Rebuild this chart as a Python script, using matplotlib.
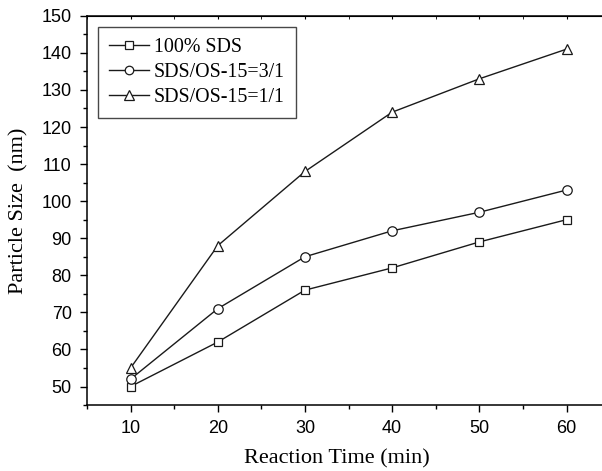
import matplotlib.pyplot as plt
from matplotlib.ticker import MultipleLocator

# reaction time (min) and particle size (nm)
time_min = [10, 20, 30, 40, 50, 60]
sds_100 = [50, 62, 76, 82, 89, 95]
sds_os_3_1 = [52, 71, 85, 92, 97, 103]
sds_os_1_1 = [55, 88, 108, 124, 133, 141]
series_labels = ['100% SDS', 'SDS/OS-15=3/1', 'SDS/OS-15=1/1']

serif = 'Liberation Serif'
sans = 'Liberation Sans'

fig = plt.figure(figsize=(6.02, 4.71), dpi=100)
# right side of the original is cropped, so the axes run past the figure edge
ax = fig.add_axes([0.1445, 0.140, 0.869, 0.8265])

markers = ['s', 'o', '^']
sizes = [6.0, 6.8, 7.5]
for ys, lab, m, ms in zip([sds_100, sds_os_3_1, sds_os_1_1], series_labels, markers, sizes):
    ax.plot(time_min, ys, color='#1a1a1a', lw=1.0, marker=m, ms=ms,
            mfc='white', mec='#1a1a1a', mew=0.9, label=lab)

ax.set_xlim(5, 65)
ax.set_ylim(45, 150)
ax.xaxis.set_major_locator(MultipleLocator(10))
ax.xaxis.set_minor_locator(MultipleLocator(5))
ax.yaxis.set_major_locator(MultipleLocator(10))
ax.yaxis.set_minor_locator(MultipleLocator(5))
ax.tick_params(which='both', direction='out', top=False, right=False, width=1.0)
ax.tick_params(which='major', length=5, labelsize=13, pad=6)
ax.tick_params(which='minor', length=3)
for t in ax.get_xticklabels() + ax.get_yticklabels():
    t.set_fontfamily(sans)

# small ticks along the top spine
sec = ax.secondary_xaxis('top')
sec.xaxis.set_major_locator(MultipleLocator(10))
sec.xaxis.set_minor_locator(MultipleLocator(5))
sec.tick_params(which='both', direction='in', length=2, labeltop=False)

for s in ax.spines.values():
    s.set_linewidth(1.1)

ax.set_xlabel('Reaction Time (min)', fontfamily=serif, fontsize=16)
ax.xaxis.set_label_coords(0.477, -0.113)
ax.set_ylabel('Particle Size  (nm)', fontfamily=serif, fontsize=16, labelpad=9)

leg = ax.legend(loc='upper left', bbox_to_anchor=(0.021, 0.972), borderaxespad=0,
                frameon=True, fancybox=False, edgecolor='#1a1a1a',
                handlelength=2.0, handletextpad=0.25, borderpad=0.55,
                labelspacing=0.3, markerscale=0.9,
                prop={'family': serif, 'size': 14.4})
leg.get_frame().set_linewidth(1.0)

fig.savefig('out.png', dpi=100)
